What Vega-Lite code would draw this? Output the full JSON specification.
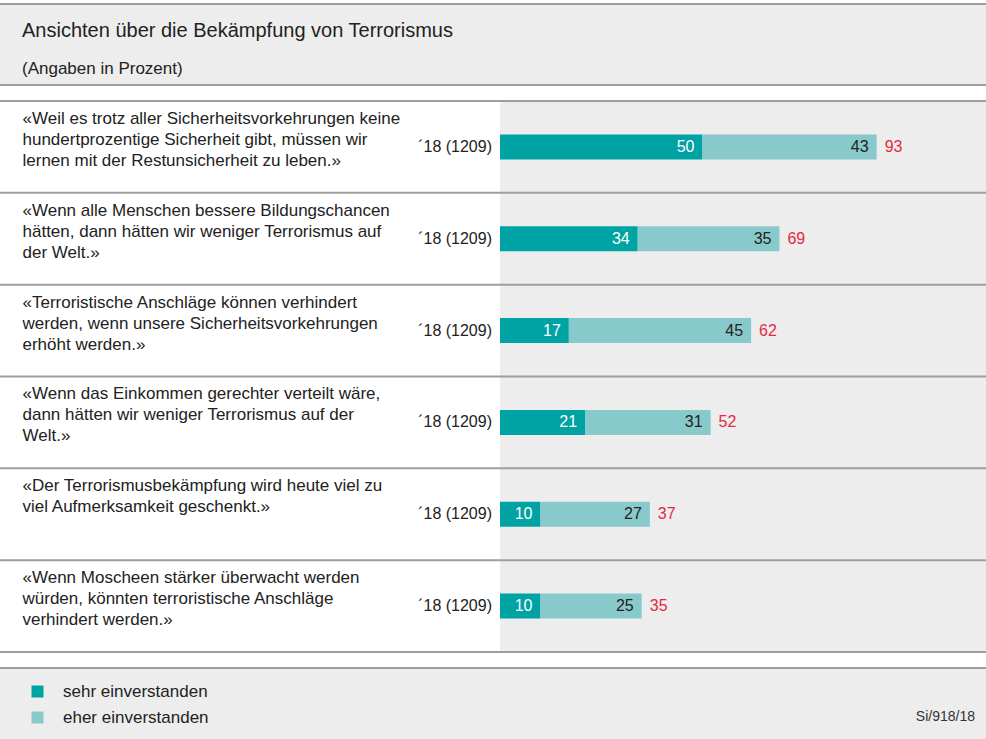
{
  "$schema": "https://vega.github.io/schema/vega-lite/v6.json",
  "width": 486,
  "height": 551,
  "autosize": {"type": "none"},
  "padding": {"left": 500, "top": 101, "right": 0, "bottom": 87},
  "background": "white",
  "config": {
    "view": {"stroke": null, "fill": "#EDEDED"},
    "font": "Liberation Sans",
    "text": {"font": "Liberation Sans"}
  },
  "title": {
    "text": "Ansichten über die Bekämpfung von Terrorismus",
    "subtitle": "(Angaben in Prozent)",
    "anchor": "start",
    "frame": "group",
    "dx": -478,
    "offset": -74,
    "fontSize": 20,
    "fontWeight": "normal",
    "font": "Liberation Sans",
    "color": "#222222",
    "subtitleFontSize": 17,
    "subtitleFont": "Liberation Sans",
    "subtitleColor": "#222222",
    "subtitlePadding": 20
  },
  "datasets": {
    "rows": [
      {"id": 1, "q": "«Weil es trotz aller Sicherheitsvorkehrungen keine\nhundertprozentige Sicherheit gibt, müssen wir\nlernen mit der Restunsicherheit zu leben.»", "n": "´18 (1209)", "gesamt": 93},
      {"id": 2, "q": "«Wenn alle Menschen bessere Bildungschancen\nhätten, dann hätten wir weniger Terrorismus auf\nder Welt.»", "n": "´18 (1209)", "gesamt": 69},
      {"id": 3, "q": "«Terroristische Anschläge können verhindert\nwerden, wenn unsere Sicherheitsvorkehrungen\nerhöht werden.»", "n": "´18 (1209)", "gesamt": 62},
      {"id": 4, "q": "«Wenn das Einkommen gerechter verteilt wäre,\ndann hätten wir weniger Terrorismus auf der\nWelt.»", "n": "´18 (1209)", "gesamt": 52},
      {"id": 5, "q": "«Der Terrorismusbekämpfung wird heute viel zu\nviel Aufmerksamkeit geschenkt.»", "n": "´18 (1209)", "gesamt": 37},
      {"id": 6, "q": "«Wenn Moscheen stärker überwacht werden\nwürden, könnten terroristische Anschläge\nverhindert werden.»", "n": "´18 (1209)", "gesamt": 35}
    ],
    "bars": [
      {"id": 1, "cat": "sehr einverstanden", "v": 50},
      {"id": 1, "cat": "eher einverstanden", "v": 43},
      {"id": 2, "cat": "sehr einverstanden", "v": 34},
      {"id": 2, "cat": "eher einverstanden", "v": 35},
      {"id": 3, "cat": "sehr einverstanden", "v": 17},
      {"id": 3, "cat": "eher einverstanden", "v": 45},
      {"id": 4, "cat": "sehr einverstanden", "v": 21},
      {"id": 4, "cat": "eher einverstanden", "v": 31},
      {"id": 5, "cat": "sehr einverstanden", "v": 10},
      {"id": 5, "cat": "eher einverstanden", "v": 27},
      {"id": 6, "cat": "sehr einverstanden", "v": 10},
      {"id": 6, "cat": "eher einverstanden", "v": 25}
    ],
    "note": [{"t": "Si/918/18"}],
    "deco": [{"k": "band"}]
  },
  "layer": [
    {
      "data": {"name": "deco"},
      "mark": {"type": "rect", "color": "#EDEDED"},
      "encoding": {"x": {"value": -500}, "x2": {"value": 486}, "y": {"value": -96}, "y2": {"value": -16}}
    },
    {
      "data": {"name": "deco"},
      "mark": {"type": "rect", "color": "#EDEDED"},
      "encoding": {"x": {"value": -500}, "x2": {"value": 486}, "y": {"value": 568}, "y2": {"value": 640}}
    },
    {
      "data": {"name": "deco"},
      "mark": {"type": "rule", "color": "#9E9E9E", "strokeWidth": 2},
      "encoding": {"x": {"value": -500}, "x2": {"value": 486}, "y": {"value": -97}}
    },
    {
      "data": {"name": "deco"},
      "mark": {"type": "rule", "color": "#9E9E9E", "strokeWidth": 2},
      "encoding": {"x": {"value": -500}, "x2": {"value": 486}, "y": {"value": -16}}
    },
    {
      "data": {"name": "deco"},
      "mark": {"type": "rule", "color": "#9E9E9E", "strokeWidth": 2},
      "encoding": {"x": {"value": -500}, "x2": {"value": 486}, "y": {"value": 567}}
    },
    {
      "data": {"name": "deco"},
      "mark": {"type": "rule", "color": "#9E9E9E", "strokeWidth": 2},
      "encoding": {"x": {"value": -500}, "x2": {"value": 486}, "y": {"value": 551}}
    },
    {
      "data": {"name": "rows"},
      "mark": {"type": "rule", "color": "#9E9E9E", "strokeWidth": 2},
      "encoding": {
        "x": {"value": -500},
        "x2": {"value": 486},
        "y": {
          "field": "q",
          "type": "nominal",
          "sort": null,
          "bandPosition": 0,
          "scale": {"paddingInner": 0, "paddingOuter": 0},
          "axis": {
            "title": null,
            "domain": false,
            "ticks": false,
            "labelAlign": "left",
            "labelBaseline": "top",
            "labelPadding": 478,
            "labelOffset": -36,
            "labelLimit": 480,
            "labelFontSize": 17,
            "labelLineHeight": 21,
            "labelColor": "#222222",
            "labelFont": "Liberation Sans",
            "labelExpr": "split(datum.label, '\\n')"
          }
        }
      }
    },
    {
      "data": {"name": "bars"},
      "transform": [{"lookup": "id", "from": {"data": {"name": "rows"}, "key": "id", "fields": ["q"]}}],
      "mark": {"type": "bar", "height": {"band": 0.272}},
      "encoding": {
        "y": {"field": "q", "type": "nominal", "sort": null},
        "x": {"field": "v", "type": "quantitative", "stack": "zero", "scale": {"domain": [0, 120], "nice": false}, "axis": null},
        "color": {
          "field": "cat",
          "type": "nominal",
          "scale": {"domain": ["sehr einverstanden", "eher einverstanden"], "range": ["#00A3A4", "#88C9CB"]},
          "legend": {
            "orient": "none",
            "legendX": -471,
            "legendY": 582,
            "direction": "vertical",
            "title": null,
            "symbolType": "square",
            "symbolSize": 144,
            "symbolStrokeWidth": 0,
            "symbolOpacity": 1,
            "labelFontSize": 17,
            "labelOffset": 17,
            "rowPadding": 8,
            "labelColor": "#222222",
            "labelFont": "Liberation Sans",
            "padding": 0
          }
        },
        "order": {"field": "cat", "sort": "descending"}
      }
    },
    {
      "data": {"name": "bars"},
      "transform": [{"lookup": "id", "from": {"data": {"name": "rows"}, "key": "id", "fields": ["q"]}}],
      "mark": {"type": "text", "align": "right", "baseline": "middle", "dx": -8, "fontSize": 16},
      "encoding": {
        "y": {"field": "q", "type": "nominal", "sort": null},
        "x": {"field": "v", "type": "quantitative", "stack": "zero"},
        "detail": {"field": "cat"},
        "order": {"field": "cat", "sort": "descending"},
        "text": {"field": "v", "type": "quantitative"},
        "color": {"condition": {"test": "datum.cat === 'sehr einverstanden'", "value": "#FFFFFF"}, "value": "#222222"}
      }
    },
    {
      "data": {"name": "rows"},
      "mark": {"type": "text", "align": "left", "baseline": "middle", "dx": 8, "fontSize": 16, "color": "#E8283F"},
      "encoding": {
        "y": {"field": "q", "type": "nominal", "sort": null},
        "x": {"field": "gesamt", "type": "quantitative"},
        "text": {"field": "gesamt", "type": "quantitative"}
      }
    },
    {
      "data": {"name": "rows"},
      "mark": {"type": "text", "align": "right", "baseline": "middle", "dx": -8, "fontSize": 16, "color": "#222222"},
      "encoding": {
        "y": {"field": "q", "type": "nominal", "sort": null},
        "x": {"datum": 0},
        "text": {"field": "n", "type": "nominal"}
      }
    },
    {
      "data": {"name": "note"},
      "mark": {"type": "text", "align": "right", "baseline": "middle", "fontSize": 14, "color": "#333333"},
      "encoding": {
        "x": {"value": 475},
        "y": {"value": 616},
        "text": {"field": "t", "type": "nominal"}
      }
    }
  ]
}
